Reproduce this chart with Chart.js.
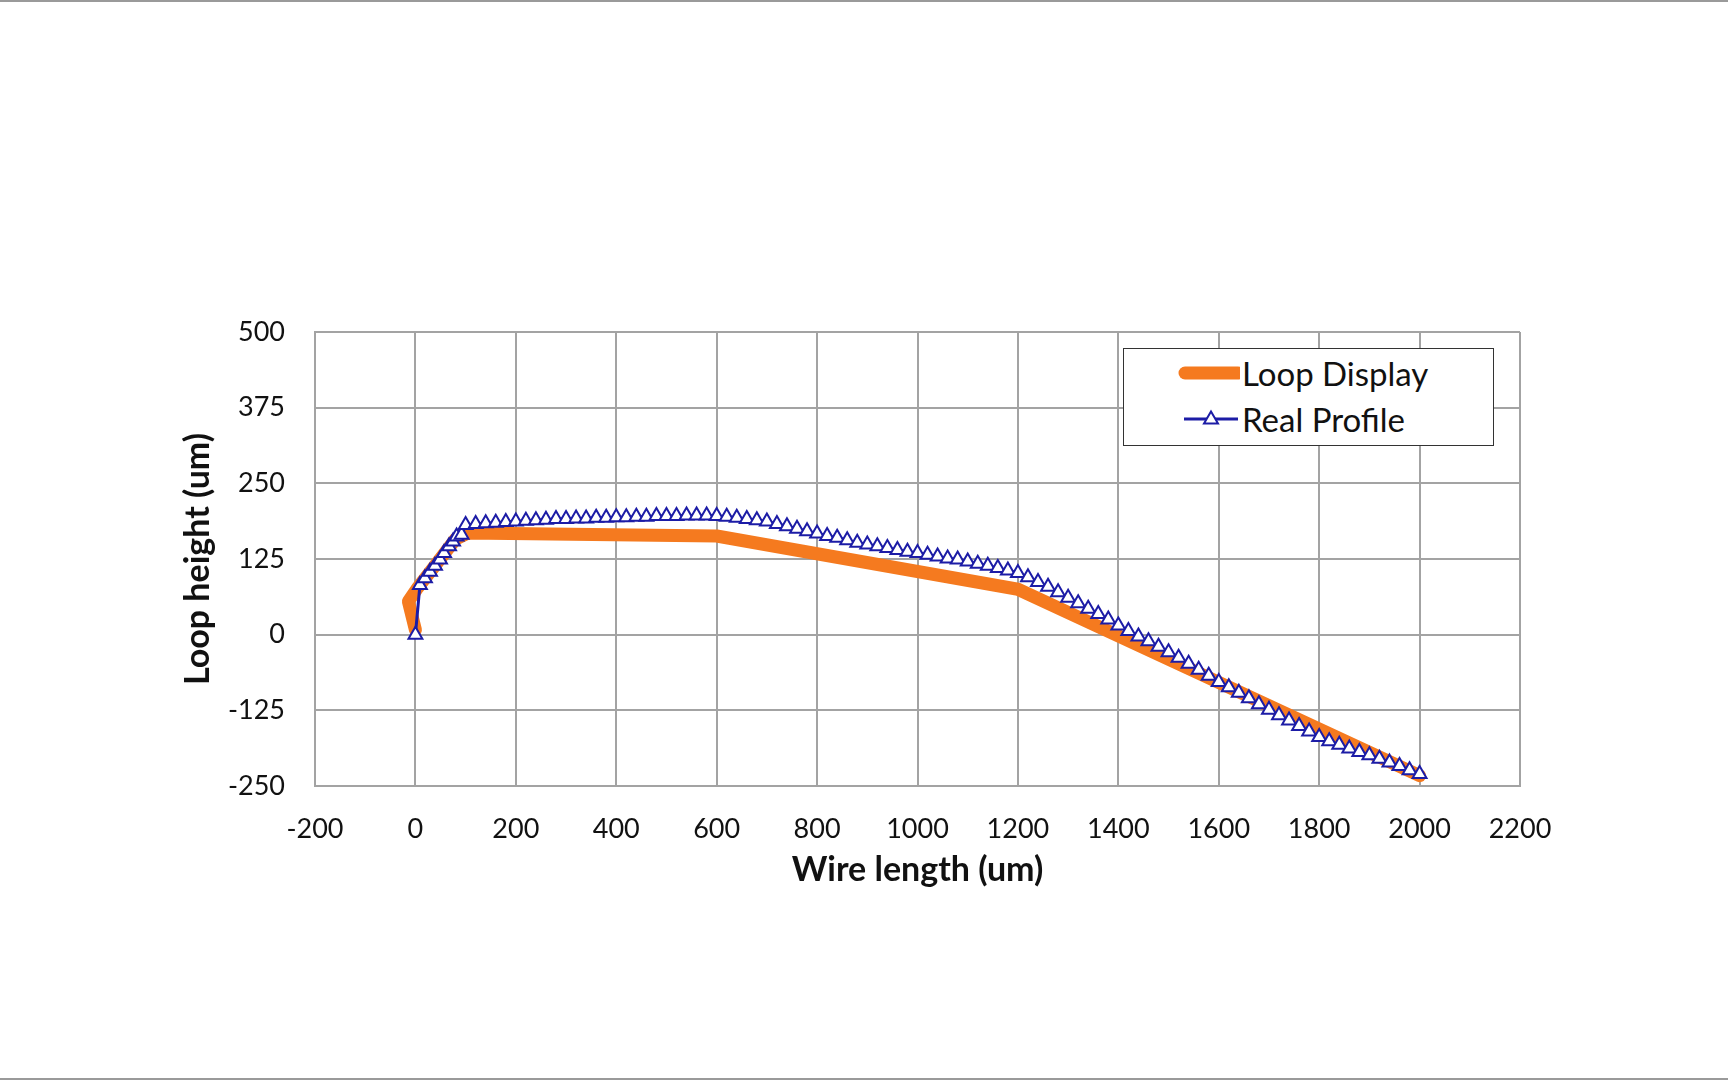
<!DOCTYPE html>
<html>
<head>
<meta charset="utf-8">
<title>Loop profile</title>
<script src="https://cdn.jsdelivr.net/npm/chart.js@4.4.1/dist/chart.umd.min.js"></script>
<style>
  html, body { margin: 0; padding: 0; background: #fff; }
  .page { position: relative; width: 1728px; height: 1080px; overflow: hidden; }
  .edge-top, .edge-bottom { position: absolute; left: 0; width: 1728px; height: 2px; background: #9a9a9a; }
  .edge-top { top: 0; }
  .edge-bottom { top: 1078px; }
  .legend-box {
    position: absolute; left: 1123px; top: 348px; width: 371px; height: 98px;
    border: 1.5px solid #333; background: #fff; box-sizing: border-box;
    font-family: Lato, "Open Sans", sans-serif; font-size: 33px; color: #111;
  }
  .legend-row { position: absolute; left: 54px; height: 44px; display: flex; align-items: center; }
  .legend-row svg { margin-right: 2px; }
</style>
</head>
<body>
<div class="page">
  <div class="edge-top"></div>
  <div class="edge-bottom"></div>
  <canvas id="loopChart" width="1728" height="1080"></canvas>
  <div class="legend-box" id="legend"></div>
</div>

<script>
// loop display (piecewise path of the bonding tool)
const displayX = [0, -14, 5, 40, 80, 105, 600, 1200, 2000];
const displayY = [8, 55, 78, 115, 158, 168, 163, 75, -233];

// measured wire profile
const profileX = [
  0, 9, 19, 29, 39, 49, 57, 67, 75, 82, 92,
  100, 120, 140, 160, 180, 200, 220, 240, 260, 280,
  300, 320, 340, 360, 380, 400, 420, 440, 460, 480,
  500, 520, 540, 560, 580, 600, 620, 640, 660, 680,
  700, 720, 740, 760, 780, 800, 820, 840, 860, 880,
  900, 920, 940, 960, 980, 1000, 1020, 1040, 1060, 1080,
  1100, 1120, 1140, 1160, 1180, 1200, 1220, 1240, 1260, 1280,
  1300, 1320, 1340, 1360, 1380, 1400, 1420, 1440, 1460, 1480,
  1500, 1520, 1540, 1560, 1580, 1600, 1620, 1640, 1660, 1680,
  1700, 1720, 1740, 1760, 1780, 1800, 1820, 1840, 1860, 1880,
  1900, 1920, 1940, 1960, 1980, 2000
];
const profileY = [
  0, 82, 93, 104, 114, 124, 135, 146, 154, 162, 165,
  181, 183, 184, 185, 186, 187, 188, 189, 190, 191,
  191, 192, 192, 193, 193, 194, 194, 195, 195, 196,
  196, 196, 197, 197, 197, 196, 195, 193, 191, 189,
  187, 183, 179, 175, 171, 167, 163, 160, 156, 152,
  149, 146, 143, 140, 137, 135, 132, 129, 126, 124,
  121, 117, 114, 110, 106, 102, 95, 87, 79, 70,
  61, 52, 43, 34, 25, 15, 6, -3, -11, -20,
  -29, -38, -48, -58, -68, -78, -87, -96, -105, -115,
  -124, -133, -142, -151, -160, -169, -176, -182, -188, -194,
  -199, -205, -211, -217, -224, -230
];

const xTicks = [-200, 0, 200, 400, 600, 800, 1000, 1200, 1400, 1600, 1800, 2000, 2200];
const yTicks = [-250, -125, 0, 125, 250, 375, 500];

const orange = "#f57a1f";
const navy = "#1c1ca6";
const gridGray = "#a3a3a3";

function toPoints(xs, ys){
  return xs.map((x, i) => ({x: x, y: ys[i]}));
}

document.addEventListener("DOMContentLoaded", function(){

  const tickFont = {family: "Lato, 'Open Sans', sans-serif", size: 27};
  const titleFont = {family: "Lato, 'Open Sans', sans-serif", size: 34, weight: "bold"};

  const chart = new Chart(document.getElementById("loopChart"), {
    type: "scatter",
    data: {
      datasets: [
        {
          label: "Loop Display",
          data: toPoints(displayX, displayY),
          showLine: true,
          borderColor: orange,
          backgroundColor: orange,
          borderWidth: 13,
          borderCapStyle: "round",
          borderJoinStyle: "round",
          pointRadius: 0,
          pointHoverRadius: 0,
          order: 2
        },
        {
          label: "Real Profile",
          data: toPoints(profileX, profileY),
          showLine: true,
          borderColor: navy,
          backgroundColor: "#ffffff",
          borderWidth: 3,
          pointStyle: "triangle",
          pointRadius: 8,
          pointBorderWidth: 2,
          pointBorderColor: navy,
          pointBackgroundColor: "#ffffff",
          order: 1
        }
      ]
    },
    options: {
      responsive: false,
      animation: false,
      events: [],
      layout: {
        padding: {left: 178, right: 208, top: 332, bottom: 190}
      },
      plugins: {
        legend: {display: false},
        tooltip: {enabled: false}
      },
      scales: {
        x: {
          type: "linear",
          min: -200,
          max: 2200,
          afterBuildTicks: (scale) => { scale.ticks = xTicks.map(v => ({value: v})); },
          afterFit: (scale) => { scale.height = 104; },
          ticks: {color: "#111", font: tickFont, padding: 27, maxRotation: 0, autoSkip: false,
            callback: (value) => String(value)},
          grid: {color: gridGray, lineWidth: 2, drawTicks: false},
          border: {display: true, color: gridGray, width: 2},
          title: {display: true, text: "Wire length (um)", color: "#111", font: titleFont, padding: 0}
        },
        y: {
          type: "linear",
          min: -250,
          max: 500,
          afterBuildTicks: (scale) => { scale.ticks = yTicks.map(v => ({value: v})); },
          afterFit: (scale) => { scale.width = 137; },
          ticks: {color: "#111", font: tickFont, padding: 30, autoSkip: false,
            callback: (value) => String(value)},
          grid: {color: gridGray, lineWidth: 2, drawTicks: false},
          border: {display: true, color: gridGray, width: 2},
          title: {display: true, text: "Loop height (um)", color: "#111", font: titleFont, padding: 0}
        }
      }
    }
  });

  buildLegend(chart);

});

function buildLegend(chart){

  const legend = document.getElementById("legend");
  const rowTops = [2, 48];

  chart.data.datasets.forEach((ds, i) => {

    const row = document.createElement("div");
    row.classList.add("legend-row");
    row.style.top = `${rowTops[i]}px`;

    let sample;
    if(ds.pointStyle === "triangle"){
      sample = `<svg width="62" height="24"><line x1="6" y1="12" x2="60" y2="12" stroke="${ds.borderColor}" stroke-width="3"/>` +
        `<polygon points="33,4.5 40,16.5 26,16.5" fill="#fff" stroke="${ds.borderColor}" stroke-width="2"/></svg>`;
    } else {
      sample = `<svg width="62" height="24"><line x1="7" y1="12" x2="60" y2="12" stroke="${ds.borderColor}" stroke-width="13" stroke-linecap="round"/></svg>`;
    }

    row.innerHTML = sample;
    const label = document.createElement("span");
    label.textContent = ds.label;
    row.append(label);
    legend.append(row);

  });

}
</script>
</body>
</html>
